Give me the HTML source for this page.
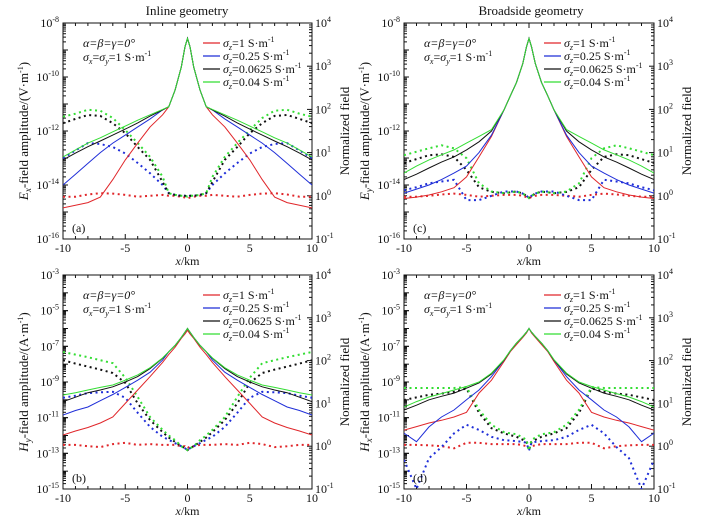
<!DOCTYPE html>
<html><head><meta charset="utf-8"><style>
html,body{margin:0;padding:0;background:#fff}
svg{display:block;font-family:"Liberation Serif","Times New Roman",serif}
svg text{font-family:"Liberation Serif","Times New Roman",serif;fill:#111}
</style></head><body>
<svg id="fig" width="702" height="520" viewBox="0 0 702 520" font-family="Liberation Serif, serif"></svg>
<script>
// Half-axis x positions (mirrored to negative side; curves are symmetric)
const xHalf = [0,0.2,0.5,1,1.5,2,3,4,5,6,7,8,9,10];
// Panel (a) Ex, log10 amplitude
const aRed   = [-8.57,-8.88,-9.63,-10.48,-11.1,-11.4,-11.85,-12.45,-13.07,-13.8,-14.45,-14.65,-14.75,-14.85];
const aBlue  = [-8.57,-8.88,-9.63,-10.48,-11.1,-11.22,-11.55,-11.85,-12.15,-12.45,-12.8,-13.2,-13.6,-14.0];
const aBlack = [-8.57,-8.88,-9.63,-10.48,-11.1,-11.22,-11.45,-11.7,-11.93,-12.15,-12.37,-12.58,-12.82,-13.07];
const aGreen = [-8.57,-8.88,-9.63,-10.48,-11.1,-11.2,-11.4,-11.6,-11.82,-12.03,-12.25,-12.45,-12.7,-12.96];
// Panel (a) normalized, log10
const aRedN   = [-0.06,-0.04,-0.02,0,0,0.02,0,-0.02,0.02,0.05,0.06,0.03,-0.02,-0.02];
const aBlueN  = [-0.02,0,0,0.02,0.06,0.25,0.52,0.76,0.98,1.13,1.2,1.22,1.05,0.87];
const aBlackN = [-0.02,0,0,0.02,0.06,0.32,0.83,1.13,1.45,1.68,1.85,1.87,1.78,1.68];
const aGreenN = [-0.02,0,0,0.02,0.06,0.44,0.9,1.22,1.52,1.8,1.97,1.99,1.9,1.83];
// Panel (b) Hy
const bRed   = [-6.1,-6.3,-6.55,-7.05,-7.45,-7.9,-8.7,-9.45,-10.2,-10.96,-11.3,-11.55,-11.75,-11.97];
const bBlue  = [-6.0,-6.2,-6.5,-6.95,-7.3,-7.77,-8.45,-8.9,-9.3,-9.7,-10.05,-10.4,-10.6,-10.85];
const bBlack = [-6.0,-6.2,-6.5,-6.95,-7.3,-7.67,-8.25,-8.7,-9.0,-9.27,-9.45,-9.6,-9.85,-10.1];
const bGreen = [-6.0,-6.2,-6.5,-6.95,-7.3,-7.65,-8.2,-8.6,-8.9,-9.17,-9.3,-9.45,-9.6,-9.73];
const bRedN   = [-0.05,0,0,0.03,0.03,0.03,0.05,0.03,0.08,0.05,-0.02,0,0.03,0.03];
const bBlueN  = [-0.09,-0.05,0,0.07,0.15,0.22,0.45,0.78,1.13,1.27,1.26,1.24,1.18,1.13];
const bBlackN = [-0.09,-0.05,0,0.1,0.2,0.33,0.61,1.0,1.48,1.71,1.79,1.86,1.93,2.01];
const bGreenN = [-0.09,-0.05,0,0.14,0.25,0.38,0.68,1.15,1.6,1.94,2.01,2.08,2.14,2.2];
// Panel (c) Ey
const cRed   = [-8.57,-8.88,-9.5,-10.2,-10.7,-11.22,-12.2,-12.96,-13.7,-14.1,-14.25,-14.37,-14.45,-14.5];
const cBlue  = [-8.57,-8.88,-9.5,-10.2,-10.7,-11.22,-12.15,-12.8,-13.3,-13.56,-13.8,-14.0,-14.15,-14.3];
const cBlack = [-8.57,-8.88,-9.5,-10.2,-10.7,-11.22,-12.0,-12.4,-12.7,-12.96,-13.15,-13.37,-13.6,-13.8];
const cGreen = [-8.57,-8.88,-9.5,-10.2,-10.7,-11.22,-11.95,-12.2,-12.45,-12.7,-12.88,-13.07,-13.3,-13.56];
const cRedN   = [-0.05,-0.03,0,0.02,0.02,0.02,0,-0.02,0.02,0.05,0.03,0,-0.02,-0.02];
const cBlueN  = [-0.05,0,0.05,0.1,0.1,0.1,0,-0.1,-0.1,0.37,0.33,0.29,0.2,0.13];
const cBlackN = [-0.05,0,0.05,0.1,0.08,0.06,0.09,0.2,0.6,0.9,0.96,0.94,0.85,0.76];
const cGreenN = [-0.05,0,0.05,0.1,0.08,0.06,0.1,0.29,0.87,1.1,1.17,1.1,1.02,0.94];
// Panel (d) Hx
const dRed   = [-6.0,-6.25,-6.5,-6.9,-7.3,-7.85,-8.9,-9.62,-10.7,-10.96,-11.15,-11.3,-11.5,-11.7];
const dBlue  = [-6.0,-6.2,-6.45,-6.82,-7.25,-7.77,-8.7,-9.45,-10.0,-10.57,-10.96,-11.52,-12.35,-11.87];
const dBlack = [-6.0,-6.2,-6.45,-6.82,-7.25,-7.77,-8.55,-9.05,-9.35,-9.62,-9.8,-10.0,-10.3,-10.57];
const dGreen = [-6.0,-6.2,-6.45,-6.82,-7.25,-7.75,-8.5,-9.0,-9.25,-9.45,-9.65,-9.84,-10.1,-10.4];
const dRedN   = [-0.05,0,0.02,0.05,0.05,0.05,0.05,0.08,0.08,-0.05,0,0.02,0.03,0.03];
const dBlueN  = [-0.1,0.08,0.1,0.12,0.13,0.14,0.22,0.38,0.5,0.3,-0.02,-0.28,-1.0,-0.32];
const dBlackN = [-0.1,0.1,0.15,0.22,0.26,0.3,0.42,0.78,1.35,1.27,1.23,1.2,1.14,1.08];
const dGreenN = [-0.1,0.15,0.2,0.28,0.3,0.33,0.5,0.85,1.38,1.36,1.36,1.36,1.36,1.36];

const legendLabels = ["=1 S·m","=0.25 S·m","=0.0625 S·m","=0.04 S·m"];
const colors = ["#e0262a","#1f2ed8","#111111","#33dd33"];

const NS = "http://www.w3.org/2000/svg";
const svg = document.getElementById('fig');
const FF = '"Liberation Serif", serif';
function el(tag, attrs, parent, txt){
  const e = document.createElementNS(NS, tag);
  for (const k in attrs) e.setAttribute(k, attrs[k]);
  if (tag === 'text') e.style.fontFamily = FF;
  if (txt !== undefined) e.textContent = txt;
  (parent || svg).appendChild(e);
  return e;
}
function mirror(xs, ys){
  const px=[], py=[];
  for (let i=xs.length-1;i>0;i--){px.push(-xs[i]); py.push(ys[i]);}
  for (let i=0;i<xs.length;i++){px.push(xs[i]); py.push(ys[i]);}
  return [px,py];
}

function panel(cfg){
  const g = el('g', {});
  
  
  const {L,R,T,B,ymin,ymax} = cfg;
  const sx = v => L + (v + 10) / 20 * (R - L);
  const sy = v => B - (v - ymin) / (ymax - ymin) * (B - T);
  const sr = v => B - (v + 1) / 5 * (B - T);
  const fr = el('rect', {x:L, y:T, width:R-L, height:B-T, fill:'none', stroke:'#111', 'stroke-width':1}, g);
  
  
  for (let v=-10; v<=10; v++){
    const len = v%5===0 ? 5 : 3;
    el('line',{x1:sx(v),x2:sx(v),y1:B,y2:B-len,stroke:'#111'},g);
    el('line',{x1:sx(v),x2:sx(v),y1:T,y2:T+len,stroke:'#111'},g);
    if (v%5===0){
      const t = el('text',{x:sx(v),y:B+13,'text-anchor':'middle','font-size':12},g,String(v));
      
      
    }
  }
  const xt = el('text',{x:(L+R)/2,y:B+26,'text-anchor':'middle','font-size':12},g);
  
  
  el('tspan',{'font-style':'italic'},xt,'x');
  el('tspan',{},xt,'/km');
  for (let d=ymin; d<ymax; d++){
    for (let m=1;m<10;m++){
      const y = sy(d+Math.log10(m));
      el('line',{x1:L,x2:L+(m===1?5:3),y1:y,y2:y,stroke:'#111'},g);
    }
  }
  for (let d=ymin; d<=ymax; d+=cfg.lstep){
    const y = sy(d);
    el('line',{x1:L,x2:L+5,y1:y,y2:y,stroke:'#111'},g);
    const t = el('text',{x:L-4,y:y+4,'text-anchor':'end','font-size':12},g);
    
    
    el('tspan',{},t,'10');
    el('tspan',{dy:-5,'font-size':8},t,String(d));
  }
  for (let d=-1; d<4; d++){
    for (let m=1;m<10;m++){
      const y = sr(d+Math.log10(m));
      el('line',{x1:R,x2:R-(m===1?5:3),y1:y,y2:y,stroke:'#111'},g);
    }
  }
  for (let d=-1; d<=4; d++){
    const y = sr(d);
    const t = el('text',{x:R+3,y:y+4,'font-size':12},g);
    
    
    el('tspan',{},t,'10');
    el('tspan',{dy:-5,'font-size':8},t,String(d));
  }
  const cy = (T+B)/2;
  const lt = el('text',{x:0,y:0,'text-anchor':'middle','font-size':13,transform:`translate(${L-35},${cy}) rotate(-90)`},g);
  
  
  el('tspan',{'font-style':'italic'},lt,cfg.q);
  el('tspan',{dy:3,'font-size':9,'font-style':'italic'},lt,cfg.sub);
  el('tspan',{dy:-3},lt,'-field amplitude/('+cfg.unit+'·m');
  el('tspan',{dy:-5,'font-size':8},lt,'-1');
  el('tspan',{dy:5},lt,')');
  const rt = el('text',{x:0,y:0,'text-anchor':'middle','font-size':13,transform:`translate(${R+37},${cy}) rotate(-90)`},g,'Normalized field');
  
  
  const clip = 'clip-'+cfg.id;
  const cp = el('clipPath',{id:clip},g);
  el('rect',{x:L,y:T,width:R-L,height:B-T},cp);
  cfg.dotted.forEach((ys,i)=>{
    const [px,py] = mirror(xHalf, ys);
    const pts = px.map((x,j)=>sx(x).toFixed(1)+','+sr(py[j]).toFixed(1)).join(' ');
    const p = el('polyline',{points:pts,fill:'none',stroke:colors[i],'stroke-width':2,'stroke-dasharray':'2 3.5','clip-path':`url(#${clip})`},g);
    
    
  });
  cfg.solid.forEach((ys,i)=>{
    const [px,py] = mirror(xHalf, ys);
    const pts = px.map((x,j)=>sx(x).toFixed(1)+','+sy(py[j]).toFixed(1)).join(' ');
    const p = el('polyline',{points:pts,fill:'none',stroke:colors[i],'stroke-width':1,'clip-path':`url(#${clip})`},g);
    
    
  });
  const a1 = el('text',{x:L+20,y:T+24,'font-size':12,'font-style':'italic'},g,'α=β=γ=0°');
  
  
  const a2 = el('text',{x:L+20,y:T+38,'font-size':12},g);
  
  
  el('tspan',{'font-style':'italic'},a2,'σ');
  el('tspan',{dy:3,'font-size':8,'font-style':'italic'},a2,'x');
  el('tspan',{dy:-3},a2,'=');
  el('tspan',{'font-style':'italic'},a2,'σ');
  el('tspan',{dy:3,'font-size':8,'font-style':'italic'},a2,'y');
  el('tspan',{dy:-3},a2,'=1 S·m');
  el('tspan',{dy:-5,'font-size':8},a2,'-1');
  const pl = el('text',{x:L+9,y:B-7,'font-size':12},g,'('+cfg.id+')');
  
  
  legendLabels.forEach((lab,i)=>{
    const y = T + 20 + i*13;
    const lg = el('g',{},g);
    
    
    el('line',{x1:cfg.lx,x2:cfg.lx+17,y1:y,y2:y,stroke:colors[i],'stroke-width':1.2},lg);
    const t = el('text',{x:cfg.lx+20,y:y+4,'font-size':12},lg);
    el('tspan',{'font-style':'italic'},t,'σ');
    el('tspan',{dy:3,'font-size':8,'font-style':'italic'},t,'z');
    el('tspan',{dy:-3},t,lab);
    el('tspan',{dy:-5,'font-size':8},t,'-1');
  });
}

panel({id:'a',L:63,R:312,T:23,B:239,ymin:-16,ymax:-8,lstep:2,q:'E',sub:'x',unit:'V',lx:203,
  solid:[aRed,aBlue,aBlack,aGreen],dotted:[aRedN,aBlueN,aBlackN,aGreenN]});
panel({id:'b',L:63,R:312,T:275,B:489,ymin:-15,ymax:-3,lstep:2,q:'H',sub:'y',unit:'A',lx:203,
  solid:[bRed,bBlue,bBlack,bGreen],dotted:[bRedN,bBlueN,bBlackN,bGreenN]});
panel({id:'c',L:404,R:654,T:23,B:239,ymin:-16,ymax:-8,lstep:2,q:'E',sub:'y',unit:'V',lx:544,
  solid:[cRed,cBlue,cBlack,cGreen],dotted:[cRedN,cBlueN,cBlackN,cGreenN]});
panel({id:'d',L:404,R:654,T:275,B:489,ymin:-15,ymax:-3,lstep:2,q:'H',sub:'x',unit:'A',lx:544,
  solid:[dRed,dBlue,dBlack,dGreen],dotted:[dRedN,dBlueN,dBlackN,dGreenN]});

const t1 = el('text',{x:187,y:15,'text-anchor':'middle','font-size':13},svg,'Inline geometry');


const t2 = el('text',{x:531,y:15,'text-anchor':'middle','font-size':13},svg,'Broadside geometry');


</script>
</body></html>
